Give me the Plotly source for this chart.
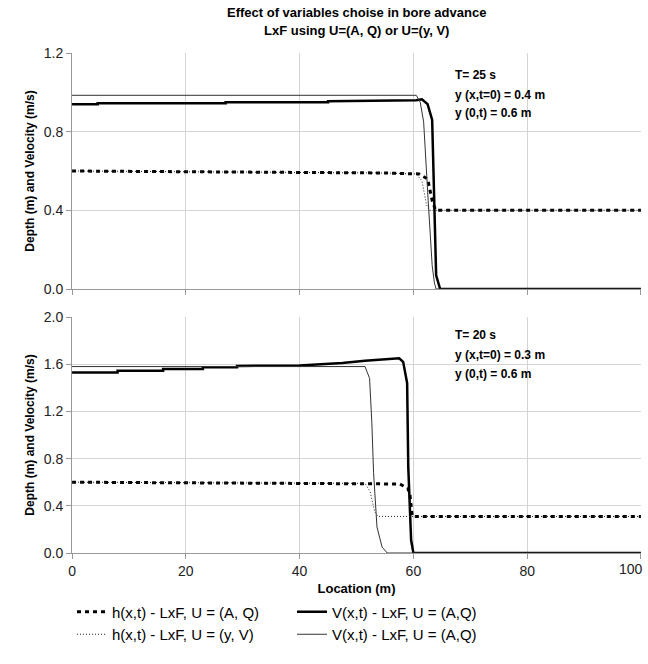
import plotly.graph_objects as go
from plotly.subplots import make_subplots

# ---------------- data ----------------
# Top panel: T = 25 s, y(x,t=0)=0.4 m, y(0,t)=0.6 m
top_hAQ_x = [0, 30, 55, 61.0, 62.5, 63.3, 63.9, 100]
top_hAQ_y = [0.60, 0.595, 0.59, 0.585, 0.56, 0.45, 0.40, 0.40]
top_hyV_x = [0, 30, 55, 60.5, 61.5, 62.3, 62.8, 100]
top_hyV_y = [0.60, 0.595, 0.59, 0.585, 0.55, 0.43, 0.40, 0.40]
top_VAQ_x = [0, 4.5, 4.5, 27, 27, 45, 45, 60.5, 61.5, 62.5, 63.3, 63.6, 64.0, 64.7, 100]
top_VAQ_y = [0.94, 0.94, 0.945, 0.945, 0.95, 0.95, 0.955, 0.96, 0.965, 0.94, 0.86, 0.45, 0.07, 0.0, 0.0]
top_VyV_x = [0, 60.5, 61.2, 61.8, 62.6, 63.3, 63.7, 64.0, 100]
top_VyV_y = [0.985, 0.985, 0.95, 0.85, 0.45, 0.12, 0.03, 0.0, 0.0]

# Bottom panel: T = 20 s, y(x,t=0)=0.3 m, y(0,t)=0.6 m
bot_hAQ_x = [0, 30, 57.6, 59.0, 59.4, 59.8, 100]
bot_hAQ_y = [0.60, 0.595, 0.585, 0.55, 0.49, 0.31, 0.31]
bot_hyV_x = [0, 30, 51.5, 52.4, 53.2, 53.8, 100]
bot_hyV_y = [0.60, 0.595, 0.59, 0.52, 0.35, 0.31, 0.31]
bot_VAQ_x = [0, 8, 8, 16, 16, 23, 23, 29, 29, 40, 47.5, 51.5, 57.5, 58.2, 58.9, 59.1, 59.6, 60.0, 100]
bot_VAQ_y = [1.53, 1.53, 1.545, 1.545, 1.56, 1.56, 1.575, 1.575, 1.585, 1.59, 1.61, 1.63, 1.65, 1.62, 1.44, 0.73, 0.11, 0.0, 0.0]
bot_VyV_x = [0, 51.5, 52.3, 52.7, 53.0, 53.6, 54.5, 55.4, 100]
bot_VyV_y = [1.58, 1.58, 1.48, 1.10, 0.68, 0.22, 0.05, 0.0, 0.0]

names = ["h(x,t) - LxF, U = (A, Q)", "V(x,t) - LxF, U = (A,Q)",
         "h(x,t) - LxF, U = (y, V)", "V(x,t) - LxF, U = (A,Q)"]

title_lines = ["Effect of variables choise in bore advance", "LxF using U=(A, Q) or U=(y, V)"]

top_notes = ["T= 25 s", "y (x,t=0) = 0.4 m", "y (0,t) = 0.6 m"]
top_note_y = [1.088, 0.987, 0.895]
bot_notes = ["T= 20 s", "y (x,t=0) = 0.3 m", "y (0,t) = 0.6 m"]
bot_note_y = [1.847, 1.678, 1.517]

x_ticks = [0, 20, 40, 60, 80, 100]
x_ticktext = ["0", "20", "40", "60", "80", ""]   # last label drawn flush with the right edge below
x_last_label = "100"
top_yticks = [0.0, 0.4, 0.8, 1.2]
bot_yticks = [0.0, 0.4, 0.8, 1.2, 1.6, 2.0]

# ---------------- figure ----------------
fig = make_subplots(rows=2, cols=1, vertical_spacing=0.056)

styles = [
    dict(color="black", width=3, dash="4px,4px"),
    dict(color="black", width=2.5),
    dict(color="#222222", width=1, dash="1px,2px"),
    dict(color="#333333", width=1),
]

top_data = [(top_hAQ_x, top_hAQ_y), (top_VAQ_x, top_VAQ_y), (top_hyV_x, top_hyV_y), (top_VyV_x, top_VyV_y)]
bot_data = [(bot_hAQ_x, bot_hAQ_y), (bot_VAQ_x, bot_VAQ_y), (bot_hyV_x, bot_hyV_y), (bot_VyV_x, bot_VyV_y)]

for i, (xs, ys) in enumerate(top_data):
    fig.add_trace(go.Scatter(x=xs, y=ys, mode="lines", line=styles[i], name=names[i],
                             showlegend=True, legendgroup=str(i)), row=1, col=1)
for i, (xs, ys) in enumerate(bot_data):
    fig.add_trace(go.Scatter(x=xs, y=ys, mode="lines", line=styles[i], name=names[i],
                             showlegend=False, legendgroup=str(i)), row=2, col=1)

FONT = "Liberation Sans, Arial, sans-serif"
grid = "#d4d4d4"
axcol = "#999999"
tickfont = dict(family=FONT, size=14, color="#222222")

common_x = dict(range=[-0.01, 100.01], tickvals=x_ticks, ticktext=x_ticktext, showgrid=True,
                gridcolor=grid, gridwidth=1,
                showline=True, linecolor=axcol, linewidth=1, ticks="outside", ticklen=5,
                tickcolor=axcol, zeroline=False, mirror=False, tickfont=tickfont,
                automargin=False)
fig.update_xaxes(**common_x)
fig.update_xaxes(showticklabels=False, row=1, col=1)
fig.update_xaxes(title=dict(text="<b>Location (m)</b>", standoff=6,
                            font=dict(family=FONT, size=13, color="black")),
                 row=2, col=1)

common_y = dict(showgrid=True, gridcolor=grid, gridwidth=1, showline=True, linecolor=axcol,
                linewidth=1, ticks="outside", ticklen=5, tickcolor=axcol, zeroline=False,
                tickformat=".1f", tickfont=tickfont, automargin=False,
                title=dict(text="<b>Depth (m) and Velocity (m/s)</b>", standoff=6,
                           font=dict(family=FONT, size=12, color="black")))
fig.update_yaxes(**common_y)
fig.update_yaxes(range=[0, 1.2001], tickvals=top_yticks, row=1, col=1)
fig.update_yaxes(range=[0, 2.0001], tickvals=bot_yticks, row=2, col=1)

fig.update_layout(xaxis=dict(domain=[0, 1]), yaxis=dict(domain=[0.528, 1.0]),
                  yaxis2=dict(domain=[0.0, 0.472]))

annots = []
for t, yv in zip(top_notes, top_note_y):
    annots.append(dict(x=67, y=yv, xref="x", yref="y", text="<b>" + t + "</b>", showarrow=False,
                       xanchor="left", yanchor="middle",
                       font=dict(family=FONT, size=12, color="black")))
for t, yv in zip(bot_notes, bot_note_y):
    annots.append(dict(x=67, y=yv, xref="x2", yref="y2", text="<b>" + t + "</b>", showarrow=False,
                       xanchor="left", yanchor="middle",
                       font=dict(family=FONT, size=12, color="black")))
for t, yp in zip(title_lines, [1.08, 1.044]):
    annots.append(dict(x=0.5, y=yp, xref="paper", yref="paper", text="<b>" + t + "</b>",
                       showarrow=False, xanchor="center", yanchor="middle",
                       font=dict(family=FONT, size=13, color="black")))
annots.append(dict(x=x_ticks[-1], y=0, xref="x2", yref="paper", text=x_last_label,
                   showarrow=False, xanchor="right", yanchor="top", xshift=4, yshift=-6,
                   font=tickfont))
fig.update_layout(annotations=annots)

fig.update_layout(
    width=648, height=664,
    margin=dict(l=72, r=7, t=53, b=111, autoexpand=False),
    paper_bgcolor="white", plot_bgcolor="white",
    legend=dict(orientation="h", x=0.0, xanchor="left", y=-0.085, yanchor="top",
                entrywidth=175, traceorder="normal", tracegroupgap=0,
                font=dict(family=FONT, size=15, color="black"),
                bgcolor="rgba(0,0,0,0)"),
    showlegend=True,
)

fig.write_html("out.html")
